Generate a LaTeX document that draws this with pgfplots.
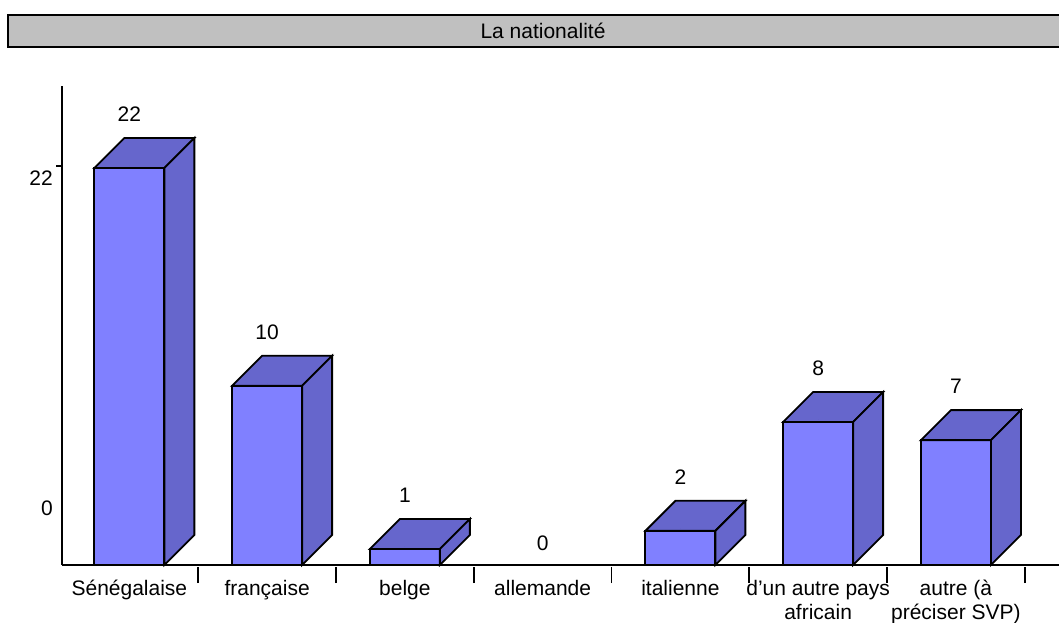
\documentclass[border=0pt]{standalone}
\usepackage{pgfplots}
\pgfplotsset{compat=1.18}
\usepackage{pgfplotstable}
\usepackage{fontspec}
\setmainfont{Liberation Sans}
\definecolor{barfront}{RGB}{128,128,255}
\definecolor{barside}{RGB}{102,102,204}
\definecolor{titlegray}{RGB}{192,192,192}
\pgfplotstableread{
x v
0 22
1 10
2 1
4 2
5 8
6 7
}\bardata
\pgfplotstableread{
x v
3 0
}\zerodata
\newcommand\chartfont{\fontsize{21}{24}\selectfont}
\begin{document}
\begin{tikzpicture}
\useasboundingbox (0pt,0pt) rectangle (1059pt,-622pt);
\draw[line width=2pt, fill=titlegray] (8pt,-14.5pt) rectangle (1080pt,-47pt);
\node[font=\chartfont] at (543pt,-31pt) {La nationalité};
\begin{axis}[
  at={(62.3pt,-565pt)}, anchor=south west,
  scale only axis,
  x=137.75pt, y=18.14pt,
  xmin=-0.487, xmax=6.8, ymin=0, ymax=26.4,
  clip=false,
  axis x line*=bottom, axis y line*=left,
  axis line style={line width=1.8pt, -},
  tick align=outside,
  major tick length=6pt,
  /pgf/number format/assume math mode=true,
  tick label style={font=\chartfont},
  xtick={0,...,6},
  xticklabels={{Sénégalaise\\\mbox{}}, {française\\\mbox{}}, {belge\\\mbox{}}, {allemande\\\mbox{}}, {italienne\\\mbox{}}, {d'un autre pays\\africain}, {autre (à\\préciser SVP)}},
  xticklabel style={align=center, anchor=base, yshift=-48pt},
  xtick style={draw=none},
  extra x ticks={0.5,1.5,2.5,3.5,4.5,5.5,6.5},
  extra x tick labels={},
  extra x tick style={major tick length=16pt, xtick style={draw=black, line width=1.6pt, yshift=-2pt}},
  ytick={22},
  yticklabels={22},
  ytick style={line width=1.6pt, black},
  yticklabel style={yshift=-12pt},
  extra y ticks={3.8},
  extra y tick labels={0},
  extra y tick style={ytick style={draw=none}},
]
\addplot[scatter, only marks, mark=*, mark size=0pt, draw=none, fill=none,
  visualization depends on={rawy \as \rawv},
  scatter/@pre marker code/.code={%
    \pgfmathsetmacro\barB{-\rawv*18.14}%
    \pgfmathsetmacro\barS{30-\rawv*18.14}%
    \filldraw[fill=barfront, draw=black, line width=1.8pt, line join=miter]
      (-35pt,-2.1pt) rectangle (35pt,\barB pt);
    \filldraw[fill=barside, draw=black, line width=1.8pt, line join=miter]
      (-35pt,-2.1pt) -- (-5pt,27.9pt) -- (65pt,27.9pt) -- (35pt,-2.1pt) -- cycle;
    \filldraw[fill=barside, draw=black, line width=1.8pt, line join=miter]
      (35pt,-2.1pt) -- (65pt,27.9pt) -- (65pt,\barS pt) -- (35pt,\barB pt) -- cycle;
  },
  scatter/@post marker code/.code={},
] table[x=x, y=v] {\bardata};
\addplot[draw=none, mark=none, nodes near coords,
  every node near coord/.append style={font=\chartfont, anchor=center, yshift=51.4pt, black}]
  table[x=x, y=v] {\bardata};
\addplot[draw=none, mark=none, nodes near coords,
  every node near coord/.append style={font=\chartfont, anchor=center, yshift=22pt, black}]
  table[x=x, y=v] {\zerodata};
\end{axis}
\end{tikzpicture}
\end{document}
